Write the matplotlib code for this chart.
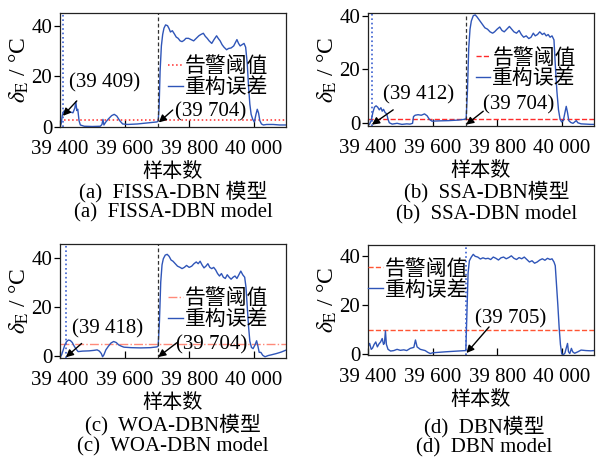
import matplotlib
matplotlib.use("Agg")
import matplotlib.pyplot as plt

plt.rcParams['font.family'] = ['Liberation Serif', 'Noto Sans CJK SC']
plt.rcParams['mathtext.fontset'] = 'stix'

# ---------------- data ----------------
xticks = [39400, 39600, 39800, 40000]
xticklabels = ['39 400', '39 600', '39 800', '40 000']
yticks = [0, 20, 40]
legend_labels = ['告警阈值', '重构误差']

# (a) FISSA-DBN
a_x = [39400, 39404, 39407, 39411, 39420, 39430, 39440, 39446, 39449, 39452, 39455, 39459, 39463, 39475,
       39500, 39525, 39530, 39533, 39536, 39542, 39550, 39560, 39568, 39576, 39585, 39594, 39610, 39640,
       39670, 39700, 39704, 39707, 39710, 39714, 39718, 39722, 39727, 39733, 39738, 39742, 39748, 39754,
       39760, 39766, 39772, 39778, 39784, 39790, 39798, 39806, 39814, 39822, 39830, 39836, 39844, 39850,
       39856, 39862, 39870, 39877, 39885, 39890, 39896, 39902, 39908, 39916, 39922, 39930, 39938, 39944,
       39948, 39953, 39958, 39964, 39970, 39975, 39980, 39984, 39988, 39992, 39997, 40002, 40007, 40011,
       40015, 40019, 40024, 40030, 40040, 40060, 40080, 40100]
a_y = [0.2, 1.5, 4.5, 6.2, 6.6, 6.0, 5.6, 7.5, 10.0, 6.5, 7.0, 2.5, 0.8, 0.3,
       0.2, 0.3, 1.0, 3.0, 0.8, 2.0, 3.2, 4.5, 5.0, 4.3, 2.5, 1.2, 1.0, 1.2,
       1.6, 2.0, 2.3, 8.0, 22.0, 32.0, 36.5, 39.0, 40.3, 40.0, 38.8, 37.5, 38.0, 36.8,
       35.5, 35.0, 34.0, 33.7, 34.2, 35.0, 35.0, 34.5, 34.0, 35.0, 36.0, 36.5, 37.0, 35.8,
       35.0, 34.0, 33.0, 34.5, 36.0, 35.0, 34.0, 32.5, 31.5, 30.5, 31.0, 31.2, 32.0, 33.5,
       34.5, 33.0, 32.0, 32.5, 33.0, 31.5, 25.0, 16.0, 9.0, 5.0, 3.0, 2.0, 5.0, 7.0,
       5.5, 2.5, 1.2, 0.8, 1.0, 1.0, 0.8, 0.8]

# (b) SSA-DBN
b_x = [39400, 39405, 39410, 39415, 39420, 39425, 39430, 39435, 39440, 39444, 39448, 39453, 39458, 39462,
       39466, 39475, 39490, 39505, 39520, 39530, 39538, 39541, 39546, 39555, 39565, 39575, 39583, 39590,
       39598, 39620, 39650, 39680, 39700, 39704, 39708, 39712, 39716, 39720, 39726, 39732, 39738, 39744,
       39750, 39756, 39762, 39770, 39778, 39786, 39792, 39800, 39808, 39815, 39822, 39830, 39838, 39845,
       39852, 39860, 39868, 39875, 39882, 39890, 39898, 39905, 39912, 39918, 39925, 39932, 39940, 39946,
       39952, 39958, 39964, 39970, 39976, 39980, 39985, 39990, 39995, 40000, 40005, 40010, 40014, 40018,
       40022, 40028, 40035, 40040, 40045, 40050, 40060, 40075, 40090, 40100]
b_y = [-0.5, -0.3, 1.0, 4.0, 6.0, 6.5, 6.0, 5.0, 5.8, 4.5, 5.2, 4.0, 3.5, 1.5,
       0.2, -0.3, 0.0, -0.4, -0.2, -0.3, 0.0, 2.5, 3.0, 3.2, 3.0, 3.5, 2.8, 1.5,
       0.8, 0.9, 1.0, 1.2, 1.5, 1.8, 12.0, 28.0, 35.0, 38.0, 40.0, 40.3, 39.5, 38.5,
       37.5, 36.5, 35.5, 35.0, 34.0, 33.5, 34.0, 35.0, 35.8, 34.5, 34.0, 35.0, 36.0, 35.0,
       34.0, 33.5, 34.5, 33.0, 32.0, 32.5, 31.5, 32.0, 33.5, 32.5, 33.0, 34.0, 33.0, 33.5,
       32.5, 33.0, 32.0, 32.5, 31.0, 22.0, 12.0, 5.0, 1.5, 0.5, 1.0, 4.0, 6.3, 4.0,
       1.0, 0.3, 0.0, 0.5, 1.0, 0.2, -0.2, -0.3, -0.4, -0.4]

# (c) WOA-DBN
c_x = [39400, 39405, 39410, 39415, 39420, 39426, 39432, 39438, 39444, 39450, 39456, 39470, 39490, 39505,
       39515, 39522, 39528, 39532, 39536, 39542, 39550, 39558, 39566, 39574, 39582, 39590, 39598, 39620,
       39650, 39680, 39700, 39704, 39708, 39712, 39716, 39720, 39726, 39732, 39738, 39744, 39750, 39757,
       39764, 39772, 39778, 39785, 39792, 39800, 39808, 39815, 39822, 39828, 39834, 39840, 39846, 39852,
       39858, 39864, 39870, 39876, 39882, 39888, 39894, 39900, 39906, 39912, 39918, 39924, 39930, 39936,
       39942, 39948, 39954, 39960, 39966, 39972, 39976, 39980, 39984, 39988, 39993, 39998, 40004, 40009,
       40013, 40017, 40022, 40028, 40035, 40045, 40055, 40070, 40085, 40100]
c_y = [-0.5, 0.5, 2.5, 4.5, 5.8, 6.5, 6.3, 5.5, 4.0, 2.8, 1.8, 2.0, 2.1, 2.3,
       2.5, 2.0, 1.0, -0.3, 0.5, 2.5, 4.0, 5.3, 5.9, 5.5, 4.5, 4.0, 3.6, 3.4,
       3.3, 3.4, 3.7, 4.0, 14.0, 30.0, 37.0, 39.5, 41.0, 41.3, 40.5, 39.0, 38.5, 37.5,
       36.5, 36.0, 35.5, 36.0, 36.8, 36.0, 36.5, 37.5, 38.2, 37.5, 38.5, 37.0, 35.8, 36.5,
       37.5, 36.0, 35.5, 36.0, 35.0, 33.5, 32.5, 33.5, 32.0, 31.5, 33.0, 32.0, 31.2, 32.0,
       32.5, 31.5, 33.0, 34.5, 33.0, 32.0, 28.0, 20.0, 12.0, 6.0, 3.5, 3.0, 4.5, 6.2,
       4.0, 1.5, 1.5, 0.3, -0.3, 0.2, 0.5, 1.0, 1.6, 2.4]

# (d) DBN
d_x = [39400, 39405, 39410, 39414, 39419, 39424, 39429, 39434, 39439, 39444, 39448, 39451, 39454, 39457,
       39462, 39470, 39480, 39490, 39500, 39511, 39520, 39531, 39542, 39547, 39552, 39562, 39577, 39585,
       39593, 39600, 39620, 39640, 39665, 39690, 39703, 39706, 39710, 39714, 39720, 39726, 39732, 39740,
       39748, 39756, 39764, 39772, 39780, 39788, 39796, 39804, 39812, 39820, 39828, 39836, 39844, 39852,
       39860, 39868, 39876, 39884, 39892, 39900, 39908, 39916, 39924, 39932, 39940, 39948, 39956, 39964,
       39970, 39976, 39980, 39984, 39988, 39992, 39996, 40000, 40005, 40010, 40014, 40018, 40021, 40025,
       40030, 40034, 40040, 40050, 40060, 40075, 40090, 40100]
d_y = [3.0, 4.4, 2.0, 2.5, 4.0, 5.0, 3.0, 4.2, 5.0, 6.4, 4.0, 4.5, 9.5, 4.0,
       2.0, 1.3, 1.5, 2.0, 1.6, 1.8, 1.5, 2.4, 2.8, 5.8, 3.0, 2.0, 1.5, 0.8,
       0.3, 0.6, 0.8, 1.0, 1.2, 1.4, 1.5, 15.0, 33.0, 38.0, 39.5, 40.6, 39.8, 39.5,
       38.7, 39.2, 38.8, 39.0, 38.5, 39.5, 39.0, 38.3, 39.2, 39.5, 38.8, 39.3, 40.0, 39.0,
       38.5, 39.3, 38.8, 39.5, 38.5, 37.5, 38.0, 37.0, 37.5, 38.3, 38.8, 38.2, 39.0, 38.5,
       38.8, 37.5, 36.0, 28.0, 20.0, 11.0, 4.0, 0.2, -0.2, 0.5, 2.5, 4.4, 1.0, 0.3,
       2.4, 1.0, 0.4, 1.0, 1.7, 1.5, 1.4, 1.5]

thresholds = [2.8, 1.7, 4.7, 10.0]
detect_points = [39409, 39412, 39418, 39705]
fault_start = 39704
detect_labels = ['(39 409)', '(39 412)', '(39 418)', '(39 705)']
captions_cn = ['(a)  FISSA-DBN 模型', '(b)  SSA-DBN模型', '(c)  WOA-DBN模型', '(d)  DBN模型']
captions_en = ['(a)  FISSA-DBN model', '(b)  SSA-DBN model', '(c)  WOA-DBN model', '(d)  DBN model']

# ---------------- layout ----------------
W, H = 599, 461
fig = plt.figure(figsize=(W / 100, H / 100), dpi=100)

def px_axes(l, r, t, b):
    return [l / W, (H - b) / H, (r - l) / W, (b - t) / H]

boxes = [px_axes(60, 286, 13, 127), px_axes(368, 594, 13, 126),
         px_axes(60, 286, 244, 358), px_axes(368, 594, 245, 355)]
ylims = [(0, 45), (-1, 41), (-0.8, 45.5), (-0.3, 44.4)]
th_styles = [dict(ls=':', color='#ff2a2a', lw=1.1),
             dict(ls='--', color='#ff2a2a', lw=1.0),
             dict(ls='-.', color='#ff8a7a', lw=1.0),
             dict(ls='--', color='#ff5533', lw=1.0)]
series = [(a_x, a_y), (b_x, b_y), (c_x, c_y), (d_x, d_y)]
legend_anchor = [(0.478, 0.434), (0.476, 0.504), (0.478, 0.425), (0.0, 0.68)]

# annotation geometry: (tip, tail, text position) for detection & fault start
ann_detect = [((39409, 4.4), (39452, 10.3), (39537, 17.5)),
              ((39412, -0.5), (39478, 5.0), (39557, 10.4)),
              ((39418, -0.5), (39467, 5.1), (39546, 10.9)),
              ((39705, 0.5), (39775, 11.1), (39843, 14.4))]
ann_fault = [((39706, 1.8), (39749, 6.7), (39865, 6.1)),
             ((39704, -0.5), (39757, 4.5), (39865, 6.7)),
             ((39704, -0.4), (39763, 5.5), (39869, 4.5)),
             None]

cap_pos = [(173, 192, 213), (487, 192, 215), (173, 425, 447), (484, 427, 448)]

blue = '#2f55b8'
FS = 15

for i in range(4):
    ax = fig.add_axes(boxes[i])
    xs, ys = series[i]
    th_line = ax.axhline(thresholds[i], **th_styles[i])
    err_line, = ax.plot(xs, ys, color=blue, lw=1.0)
    ax.axvline(detect_points[i], color='#3a5fd0', ls=':', lw=1.2)
    if i < 3:
        ax.axvline(fault_start, color='#333333', ls='--', lw=0.9, dashes=(3, 2))
    ax.set_xlim(39400, 40100)
    ax.set_ylim(*ylims[i])
    ax.set_xticks(xticks)
    ax.set_xticklabels(xticklabels, fontsize=FS)
    ax.set_yticks(yticks)
    ax.set_yticklabels([str(v) for v in yticks], fontsize=FS)
    ax.tick_params(axis='x', direction='in', length=5, width=0.9, pad=9)
    ax.tick_params(axis='y', direction='out', length=4, width=0.9, pad=1.5)
    for s in ax.spines.values():
        s.set_linewidth(0.9)
        s.set_color('#222222')
    ax.set_ylabel(r'$\delta_{\mathrm{E}}$ / °C', fontsize=17, labelpad=0)
    ax.set_xlabel('样本数', fontsize=FS - 0.5, labelpad=3.5)
    leg = ax.legend([th_line, err_line], legend_labels, loc='center left',
                    bbox_to_anchor=legend_anchor[i], frameon=False, fontsize=FS,
                    handlelength=0.7, handletextpad=0.1, labelspacing=0.05,
                    borderpad=0, borderaxespad=0)
    arrow_kw = dict(arrowstyle='-|>', color='black', lw=1.0, mutation_scale=11,
                    shrinkA=0, shrinkB=0)
    tip, tail, tpos = ann_detect[i]
    ax.annotate('', xy=tip, xytext=tail, arrowprops=arrow_kw)
    ax.text(tpos[0], tpos[1], detect_labels[i], fontsize=FS, ha='center', va='center')
    if ann_fault[i] is not None:
        tip, tail, tpos = ann_fault[i]
        ax.annotate('', xy=tip, xytext=tail, arrowprops=arrow_kw)
        ax.text(tpos[0], tpos[1], '(39 704)', fontsize=FS, ha='center', va='center')
    cx, cy1, cy2 = cap_pos[i]
    fig.text(cx / W, 1 - cy1 / H, captions_cn[i], fontsize=FS, ha='center', va='center')
    fig.text(cx / W, 1 - cy2 / H, captions_en[i], fontsize=FS, ha='center', va='center')

fig.savefig('out.png', dpi=100)
